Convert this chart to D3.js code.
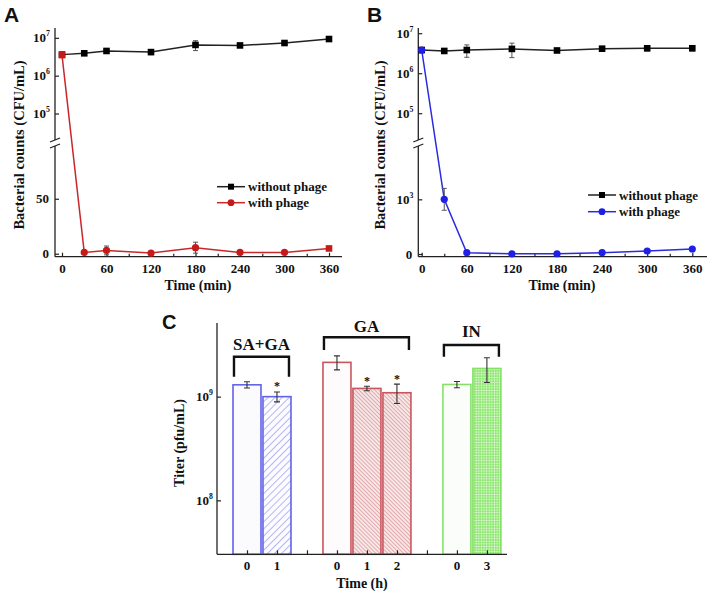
<!DOCTYPE html>
<html><head><meta charset="utf-8">
<script src="https://cdn.jsdelivr.net/npm/d3@7"></script>
<style>
body{margin:0;background:#fff}
svg{display:block}
text{font-family:"Liberation Serif","Times New Roman",serif;font-weight:bold;fill:#111}
.letter{font-family:"Liberation Sans",Arial,sans-serif;font-weight:bold}
</style>
</head><body>
<svg id="c" width="711" height="595"></svg>
<script>
// ---------------- DATA ----------------
const timesMin = [0, 30, 60, 120, 180, 240, 300, 360];
const xTickValues = [0, 60, 120, 180, 240, 300, 360];
const seriesNames = ["without phage", "with phage"];

// Panel A (CFU/mL)
const aWithout     = [3.6e6, 3.9e6, 4.5e6, 4.2e6, 6.5e6, 6.3e6, 7.3e6, 9.3e6];
const aWithoutErr  = [0.2e6, 0.2e6, 0.3e6, 0.6e6, 1.9e6, 0.3e6, 0.4e6, 0.7e6];
const aWith        = [3.5e6, 1.2, 3.0, 0.6, 5.5, 1.2, 1.2, 4.8];
const aWithErr     = [0, 0.5, 4.0, 0.5, 5.0, 0.5, 0.5, 0.6];

// Panel B (CFU/mL)
const bWithout     = [3.8e6, 3.6e6, 3.8e6, 4.05e6, 3.7e6, 4.1e6, 4.2e6, 4.2e6];
const bWithoutErr  = [0.6e6, 0.2e6, 1.3e6, 1.6e6, 0.2e6, 0.2e6, 0.6e6, 0.6e6];
const bWith        = [3.8e6, 1000, 24, 3, 5, 25, 55, 92];
const bWithErr     = [0, 200, 0, 0, 0, 0, 0, 0];

// Panel C (pfu/mL)
const cGroups      = ["SA+GA", "GA", "IN"];
const cBarGroup    = [0, 0, 1, 1, 1, 2, 2];
const cTimeLabels  = ["0", "1", "0", "1", "2", "0", "3"];
const cValues      = [1.30e9, 1.00e9, 2.14e9, 1.20e9, 1.09e9, 1.31e9, 1.87e9];
const cErr         = [0.09e9, 0.11e9, 0.33e9, 0.06e9, 0.23e9, 0.09e9, 0.50e9];
const cSignificant = [false, true, false, true, true, false, false];

// ---------------- DRAW ----------------
const svg = d3.select("#c");
const defs = svg.append("defs");

function supLabel(g, x, y, base, exp, size, anchor) {
  const t = g.append("text").attr("x", x).attr("y", y)
    .attr("text-anchor", anchor || "end").style("font-size", size + "px");
  t.append("tspan").text(base);
  t.append("tspan").attr("dy", -size * 0.45).style("font-size", (size * 0.6) + "px").text(exp);
  return t;
}

function linePanel(cfg) {
  const g = svg.append("g");
  const x = d3.scaleLinear().domain([0, 360]).range(cfg.xr);
  const yUp = d3.scaleLog().domain(cfg.upDom).range([cfg.upBot, cfg.upTop]);
  const yLo = d3.scaleLinear().domain(cfg.loDom).range([cfg.base, cfg.loTop]);
  const thr = cfg.upDom[0];
  const yPos = v => v >= thr ? yUp(v) : yLo(v);

  // y axis: upper log part
  const upAx = g.append("g").attr("transform", `translate(${cfg.ax},0)`)
    .call(d3.axisLeft(yUp).tickValues([1e5, 1e6, 1e7]).tickSize(-4).tickFormat(""));
  upAx.select(".domain").remove();
  upAx.selectAll("line").attr("stroke", "#222").attr("stroke-width", 1.2);
  [[1e5, "5"], [1e6, "6"], [1e7, "7"]].forEach(([v, e]) =>
    supLabel(g, cfg.ax - 5, yUp(v) + 4.5, "10", e, 13));
  // y axis: lower linear part
  const loAx = g.append("g").attr("transform", `translate(${cfg.ax},0)`)
    .call(d3.axisLeft(yLo).tickValues(cfg.loTicks).tickSize(-4).tickFormat(""));
  loAx.select(".domain").remove();
  loAx.selectAll("line").attr("stroke", "#222").attr("stroke-width", 1.2);
  cfg.loTicks.forEach((v, i) => {
    const lab = cfg.loLabels[i];
    if (Array.isArray(lab)) supLabel(g, cfg.ax - 5, yLo(v) + 4.5, lab[0], lab[1], 13);
    else g.append("text").attr("x", cfg.ax - 6).attr("y", yLo(v) + 4.5)
      .attr("text-anchor", "end").style("font-size", "13px").text(lab);
  });
  // axis lines with break
  g.append("line").attr("x1", cfg.ax).attr("x2", cfg.ax).attr("y1", cfg.upTop).attr("y2", cfg.upBot)
    .attr("stroke", "#222").attr("stroke-width", 1.3);
  g.append("line").attr("x1", cfg.ax).attr("x2", cfg.ax).attr("y1", cfg.loTop).attr("y2", cfg.base)
    .attr("stroke", "#222").attr("stroke-width", 1.3);
  [cfg.upBot, cfg.loTop].forEach(yy => g.append("line")
    .attr("x1", cfg.ax - 5).attr("y1", yy + 2).attr("x2", cfg.ax + 5).attr("y2", yy - 2)
    .attr("stroke", "#222").attr("stroke-width", 1.2));

  // x axis
  const xa = g.append("g").attr("transform", `translate(0,${cfg.base})`)
    .call(d3.axisBottom(x).tickValues(d3.range(0, 361, 30)).tickSize(-4).tickPadding(7)
      .tickFormat(d => xTickValues.includes(d) ? d : ""));
  xa.select(".domain").remove();
  xa.selectAll("line").attr("stroke", "#222").attr("stroke-width", 1.2)
    .attr("y2", d => xTickValues.includes(d) ? -4 : -3);
  xa.selectAll("text").style("font-size", "13px").attr("fill", "#111")
    .style("font-family", '"Liberation Serif",serif').style("font-weight", "bold");
  g.append("line").attr("x1", cfg.ax).attr("x2", cfg.xEnd).attr("y1", cfg.base).attr("y2", cfg.base)
    .attr("stroke", "#222").attr("stroke-width", 1.3);

  // series
  cfg.series.forEach(s => {
    const pts = timesMin.map((t, i) => ({t, v: s.vals[i], e: s.errs[i], i}));
    g.append("path").datum(pts)
      .attr("d", d3.line().x(d => x(d.t)).y(d => yPos(d.v)))
      .attr("fill", "none").attr("stroke", s.line).attr("stroke-width", 1.5);
    pts.filter(d => d.e > 0).forEach(d => {
      const y1 = yPos(d.v + d.e), y2 = yPos(Math.max(d.v - d.e, d.v >= thr ? thr : cfg.loDom[0]));
      const cx = x(d.t);
      g.append("path").attr("d", `M${cx},${y1}V${y2}M${cx - 2.5},${y1}H${cx + 2.5}M${cx - 2.5},${y2}H${cx + 2.5}`)
        .attr("stroke", "#555").attr("stroke-width", 1).attr("fill", "none");
    });
    pts.forEach(d => {
      const square = s.shape === "square" || (s.endSquares && (d.i === 0 || d.i === timesMin.length - 1));
      if (square) g.append("rect").attr("x", x(d.t) - 3.3).attr("y", yPos(d.v) - 3.3)
        .attr("width", 6.6).attr("height", 6.6).attr("fill", s.color);
      else g.append("circle").attr("cx", x(d.t)).attr("cy", yPos(d.v)).attr("r", 3.6).attr("fill", s.color);
    });
  });

  // legend
  cfg.series.forEach((s, i) => {
    const ly = cfg.legend.y[i], lx = cfg.legend.x;
    g.append("line").attr("x1", lx).attr("x2", lx + 28).attr("y1", ly).attr("y2", ly)
      .attr("stroke", s.line).attr("stroke-width", 1.5);
    if (s.shape === "square") g.append("rect").attr("x", lx + 14 - 3).attr("y", ly - 3)
      .attr("width", 6).attr("height", 6).attr("fill", s.color);
    else g.append("circle").attr("cx", lx + 14).attr("cy", ly).attr("r", 3.4).attr("fill", s.color);
    g.append("text").attr("x", lx + 31).attr("y", ly + 4.5).style("font-size", "13px").text(seriesNames[i]);
  });

  // titles
  g.append("text").attr("transform", `translate(${cfg.ytitle[0]},${cfg.ytitle[1]}) rotate(-90)`)
    .attr("text-anchor", "middle").style("font-size", "14.5px").text("Bacterial counts (CFU/mL)");
  g.append("text").attr("x", cfg.xtitle[0]).attr("y", cfg.xtitle[1]).attr("text-anchor", "middle")
    .style("font-size", "14px").text("Time (min)");
  g.append("text").attr("class", "letter").attr("x", cfg.letter[0]).attr("y", cfg.letter[1])
    .style("font-size", "21px").text(cfg.letter[2]);
}

linePanel({
  ax: 55, xr: [62, 329], xEnd: 342, base: 256.7,
  upTop: 28, upBot: 140, upDom: [10 ** 4.3, 10 ** 7.26],
  loTop: 146, loDom: [-2.7, 98], loTicks: [0, 50], loLabels: ["0", "50"],
  series: [
    {vals: aWithout, errs: aWithoutErr, color: "#000", line: "#222", shape: "square"},
    {vals: aWith, errs: aWithErr, color: "#c41a1a", line: "#c8282a", shape: "circle", endSquares: true}
  ],
  legend: {x: 217, y: [186.7, 202.7]},
  ytitle: [24, 145], xtitle: [198, 290], letter: [4, 22, "A"]
});

linePanel({
  ax: 418.3, xr: [421.7, 692.3], xEnd: 707, base: 256.7,
  upTop: 28, upBot: 140, upDom: [10 ** 4.33, 10 ** 7.13],
  loTop: 146, loDom: [-49, 1975], loTicks: [0, 1000], loLabels: ["0", ["10", "3"]],
  series: [
    {vals: bWithout, errs: bWithoutErr, color: "#000", line: "#222", shape: "square"},
    {vals: bWith, errs: bWithErr, color: "#1f1fe6", line: "#2a2ae0", shape: "circle"}
  ],
  legend: {x: 588, y: [195, 211.7]},
  ytitle: [385, 145], xtitle: [562, 290], letter: [367, 22, "B"]
});

// ---------------- Panel C ----------------
(function () {
  const g = svg.append("g");
  const axL = 217, axB = 554.3, top = 323, right = 507;
  const y = d3.scaleLog().domain([10 ** 7.48, 10 ** 9.71]).range([axB, top]);
  const x = d3.scaleLinear().domain([0, 9.67]).range([axL, right]);
  const slot = i => i + cBarGroup[i] + 1;
  const bw = 28;

  // patterns
  const pb = defs.append("pattern").attr("id", "hb").attr("patternUnits", "userSpaceOnUse")
    .attr("width", 5).attr("height", 5).attr("patternTransform", "rotate(45)");
  pb.append("rect").attr("width", 5).attr("height", 5).attr("fill", "#fcfcff");
  pb.append("line").attr("x1", 0).attr("y1", 0).attr("x2", 0).attr("y2", 5).attr("stroke", "#7a7af0").attr("stroke-width", 1.1);
  const pr = defs.append("pattern").attr("id", "hr").attr("patternUnits", "userSpaceOnUse")
    .attr("width", 2.8).attr("height", 2.8).attr("patternTransform", "rotate(-45)");
  pr.append("rect").attr("width", 2.8).attr("height", 2.8).attr("fill", "#f7e8e8");
  pr.append("line").attr("x1", 0).attr("y1", 0).attr("x2", 0).attr("y2", 2.8).attr("stroke", "#cf7078").attr("stroke-width", 1);
  const pg = defs.append("pattern").attr("id", "hg").attr("patternUnits", "userSpaceOnUse")
    .attr("width", 2.6).attr("height", 2.6);
  pg.append("rect").attr("width", 2.6).attr("height", 2.6).attr("fill", "#8ae66c");
  pg.append("path").attr("d", "M0,0.3H2.6M0.3,0V2.6").attr("stroke", "#e9fbe2").attr("stroke-width", 0.6);

  const barStyle = [
    {stroke: "#6262ea", fill: "#fbfbfd"},
    {stroke: "#6262ea", fill: "url(#hb)"},
    {stroke: "#c8565e", fill: "#fdfbfb"},
    {stroke: "#c8565e", fill: "url(#hr)"},
    {stroke: "#c8565e", fill: "url(#hr)"},
    {stroke: "#86e068", fill: "#fbfdfb"},
    {stroke: "#86e068", fill: "url(#hg)"}
  ];

  cValues.forEach((v, i) => {
    const cx = x(slot(i));
    g.append("rect").attr("x", cx - bw / 2).attr("y", y(v)).attr("width", bw).attr("height", axB - y(v))
      .attr("fill", barStyle[i].fill).attr("stroke", barStyle[i].stroke).attr("stroke-width", 1.6);
    const y1 = y(v + cErr[i]), y2 = y(v - cErr[i]);
    g.append("path").attr("d", `M${cx},${y1}V${y2}M${cx - 3},${y1}H${cx + 3}M${cx - 3},${y2}H${cx + 3}`)
      .attr("stroke", "#333").attr("stroke-width", 1.1).attr("fill", "none");
    if (cSignificant[i]) g.append("text").attr("x", cx).attr("y", y1 - 1.5).attr("text-anchor", "middle")
      .style("font-size", "12px").text("*");
  });

  // axes
  const ya = g.append("g").attr("transform", `translate(${axL},0)`)
    .call(d3.axisLeft(y).tickValues([1e8, 1e9]).tickSize(-4).tickFormat(""));
  ya.select(".domain").remove();
  ya.selectAll("line").attr("stroke", "#222").attr("stroke-width", 1.2);
  supLabel(g, axL - 4, y(1e9) + 4.5, "10", "9", 13);
  supLabel(g, axL - 4, y(1e8) + 4.5, "10", "8", 13);
  const xa = g.append("g").attr("transform", `translate(0,${axB})`)
    .call(d3.axisBottom(x).tickValues(d3.range(1, 10)).tickSize(-4).tickFormat(""));
  xa.select(".domain").remove();
  xa.selectAll("line").attr("stroke", "#222").attr("stroke-width", 1.2);
  cTimeLabels.forEach((t, i) => g.append("text").attr("x", x(slot(i))).attr("y", axB + 15.5)
    .attr("text-anchor", "middle").style("font-size", "13px").text(t));
  g.append("line").attr("x1", axL).attr("x2", axL).attr("y1", top).attr("y2", axB).attr("stroke", "#222").attr("stroke-width", 1.3);
  g.append("line").attr("x1", axL).attr("x2", right).attr("y1", axB).attr("y2", axB).attr("stroke", "#222").attr("stroke-width", 1.3);

  // brackets (layout)
  const bracketLine = [356.7, 337.3, 345];
  const bracketLeg = [376.7, 350, 356.7];
  const labelBase = [350, 331.7, 336.7];
  cGroups.forEach((name, gi) => {
    const idx = cBarGroup.map((gg, i) => gg === gi ? i : -1).filter(i => i >= 0);
    const xl = x(slot(idx[0])) - 13, xr = x(slot(idx[idx.length - 1])) + 12;
    g.append("path").attr("d", `M${xl},${bracketLeg[gi]}V${bracketLine[gi]}H${xr}V${bracketLeg[gi]}`)
      .attr("fill", "none").attr("stroke", "#111").attr("stroke-width", 2.4);
    g.append("text").attr("x", (xl + xr) / 2).attr("y", labelBase[gi]).attr("text-anchor", "middle")
      .style("font-size", "17px").text(name);
  });

  g.append("text").attr("transform", `translate(184,443) rotate(-90)`).attr("text-anchor", "middle")
    .style("font-size", "14px").text("Titer (pfu/mL)");
  g.append("text").attr("x", 362).attr("y", 588).attr("text-anchor", "middle").style("font-size", "14px").text("Time (h)");
  g.append("text").attr("class", "letter").attr("x", 162).attr("y", 329).style("font-size", "20px").text("C");
})();
</script>
</body></html>
